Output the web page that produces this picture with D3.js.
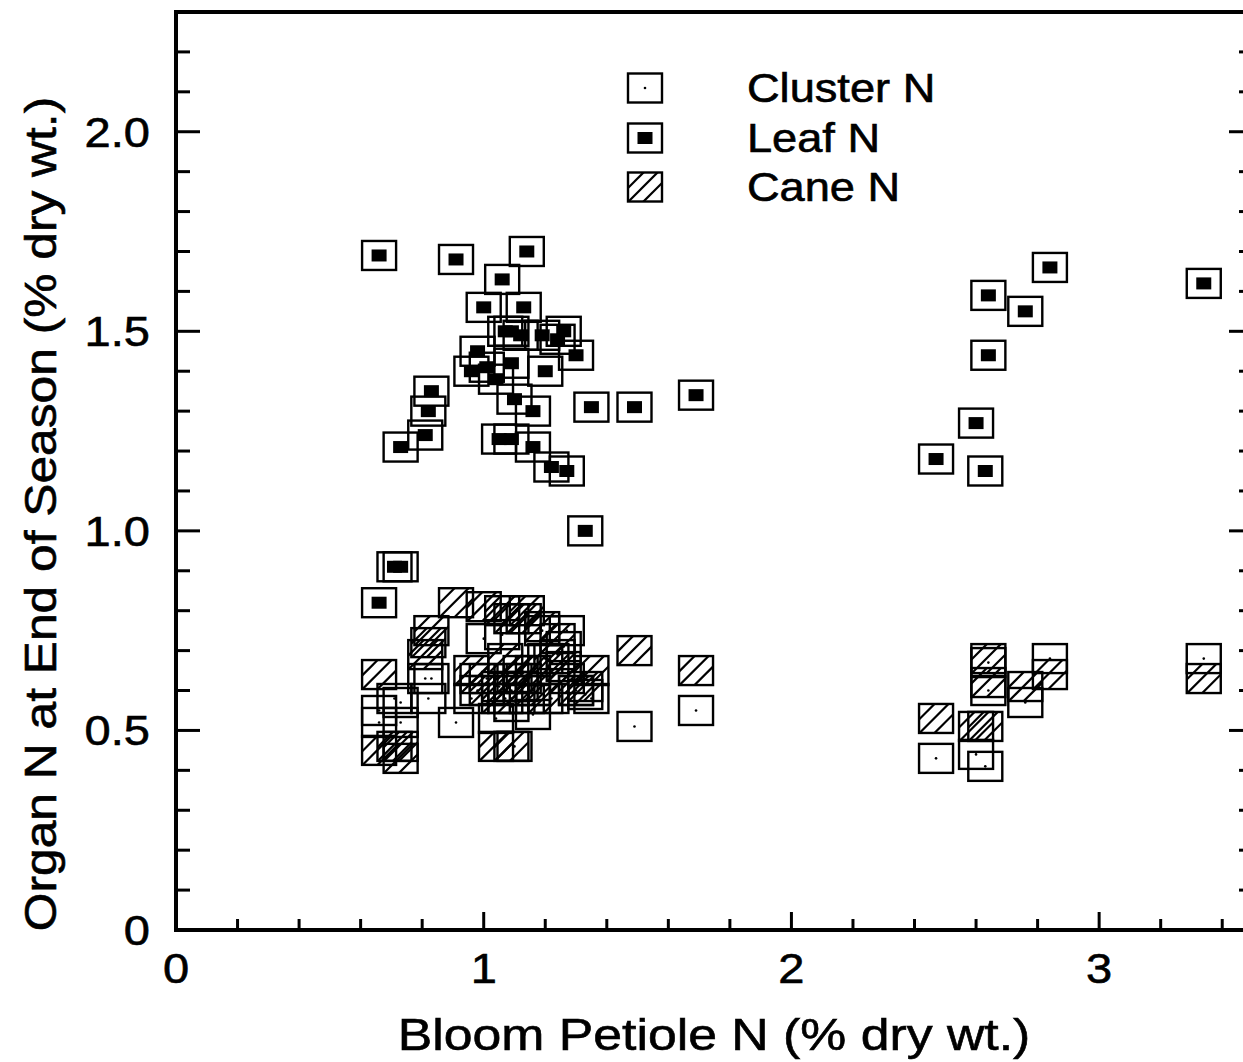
<!DOCTYPE html>
<html>
<head>
<meta charset="utf-8">
<script src="https://cdn.jsdelivr.net/npm/d3@7"></script>
<style>
  html, body { margin: 0; padding: 0; background: #fff; }
  svg { display: block; }
  text { font-family: "Liberation Sans", Arial, Helvetica, sans-serif; fill: #000; stroke: #000; stroke-width: 0.6px; }
</style>
</head>
<body>
<svg id="chart" width="1243" height="1062"></svg>
<script>
// ---- Data ----
const petioleN = [0.66, 0.91, 1.14, 1.06, 1.00, 1.13, 1.09, 1.07, 1.12, 1.19,
                  1.24, 1.26, 1.30, 0.98, 0.96, 1.01, 1.04, 1.09, 1.20, 1.10,
                  1.16, 0.83, 0.82, 0.81, 0.73, 1.05, 1.09, 1.16, 1.22, 1.27,
                  1.35, 1.49, 1.69, 1.33, 0.71, 0.73, 0.66, 2.84, 2.64, 2.76,
                  2.64, 2.60, 2.47, 2.63, 3.34];
const leafN = [1.69, 1.68, 1.70, 1.63, 1.56, 1.56, 1.50, 1.50, 1.49, 1.49,
               1.48, 1.50, 1.44, 1.45, 1.40, 1.41, 1.38, 1.42, 1.40, 1.33,
               1.30, 1.35, 1.30, 1.24, 1.21, 1.23, 1.23, 1.21, 1.16, 1.15,
               1.31, 1.31, 1.34, 1.00, 0.91, 0.91, 0.82, 1.66, 1.59, 1.55,
               1.44, 1.27, 1.18, 1.15, 1.62];
const clusterN = [0.52, 0.52, 0.58, 0.74, 0.73, 0.63, 0.60, 0.58, 0.61, 0.75,
                  0.69, 0.71, 0.60, 0.60, 0.58, 0.63, 0.53, 0.58, 0.68, 0.46,
                  0.60, 0.63, 0.58, 0.63, 0.57, 0.61, 0.56, 0.54, 0.58, 0.75,
                  0.58, 0.51, 0.55, 0.59, 0.58, 0.52, 0.55, 0.68, 0.60, 0.57,
                  0.67, 0.44, 0.43, 0.41, 0.68];
const caneN = [0.64, 0.82, 0.80, 0.80, 0.81, 0.78, 0.78, 0.68, 0.65, 0.76,
               0.73, 0.66, 0.60, 0.63, 0.65, 0.60, 0.46, 0.61, 0.58, 0.63,
               0.65, 0.75, 0.72, 0.69, 0.46, 0.58, 0.46, 0.60, 0.68, 0.63,
               0.65, 0.70, 0.65, 0.61, 0.46, 0.43, 0.45, 0.64, 0.68, 0.61,
               0.62, 0.51, 0.53, 0.51, 0.63];

const xTickValues = [0, 1, 2, 3];
const xTickLabels = ["0", "1", "2", "3"];
const yTickValues = [0, 0.5, 1.0, 1.5, 2.0];
const yTickLabels = ["0", "0.5", "1.0", "1.5", "2.0"];
const legendLabels = ["Cluster N", "Leaf N", "Cane N"];
const xTitle = "Bloom Petiole N (% dry wt.)";
const yTitle = "Organ N at End of Season (% dry wt.)";

// ---- Layout ----
const svg = d3.select("#chart");
const x = d3.scaleLinear().domain([0, 3.5]).range([176, 1253]);
const y = d3.scaleLinear().domain([0, 2.3]).range([930, 12]);
const STRETCH = 1.12;
const BW = 34, BH = 29;

const defs = svg.append("defs");
defs.append("clipPath").attr("id", "boxclip")
  .append("rect").attr("x", -BW/2).attr("y", -BH/2).attr("width", BW).attr("height", BH);

// ---- Axes / frame ----
const frame = svg.append("g").attr("stroke", "#000").attr("stroke-linecap", "butt");
frame.append("line").attr("x1", x(0)).attr("x2", x(3.5)).attr("y1", y(0)).attr("y2", y(0)).attr("stroke-width", 4);
frame.append("line").attr("x1", x(0)).attr("x2", x(3.5)).attr("y1", y(2.3)).attr("y2", y(2.3)).attr("stroke-width", 4);
frame.append("line").attr("x1", x(0)).attr("x2", x(0)).attr("y1", y(0) + 2).attr("y2", y(2.3) - 2).attr("stroke-width", 4);
frame.append("line").attr("x1", x(3.5)).attr("x2", x(3.5)).attr("y1", y(0)).attr("y2", y(2.3)).attr("stroke-width", 4);

const yMinor = d3.range(1, 23).map(i => i / 10);
yMinor.forEach(v => {
  const major = Math.abs(v * 2 - Math.round(v * 2)) < 1e-6;
  const len = major ? 24 : 14;
  frame.append("line").attr("x1", x(0)).attr("x2", x(0) + len)
    .attr("y1", y(v)).attr("y2", y(v)).attr("stroke-width", 3);
  frame.append("line").attr("x1", x(3.5)).attr("x2", x(3.5) - len)
    .attr("y1", y(v)).attr("y2", y(v)).attr("stroke-width", 3);
});
const xMinor = d3.range(1, 18).map(i => i / 5);
xMinor.forEach(v => {
  const major = Math.abs(v - Math.round(v)) < 1e-6;
  const len = major ? 18 : 11;
  frame.append("line").attr("x1", x(v)).attr("x2", x(v))
    .attr("y1", y(0)).attr("y2", y(0) - len).attr("stroke-width", 3);
});

xTickValues.forEach((v, i) => {
  svg.append("text")
    .attr("transform", `translate(${x(v)},${983}) scale(${STRETCH},1)`)
    .attr("text-anchor", "middle")
    .attr("font-size", 42)
    .text(xTickLabels[i]);
});
yTickValues.forEach((v, i) => {
  svg.append("text")
    .attr("transform", `translate(${150},${y(v) + 15}) scale(${STRETCH},1)`)
    .attr("text-anchor", "end")
    .attr("font-size", 42)
    .text(yTickLabels[i]);
});

svg.append("text")
  .attr("transform", `translate(${714},${1050}) scale(1.15,1)`)
  .attr("text-anchor", "middle")
  .attr("font-size", 45)
  .text(xTitle);
svg.append("text")
  .attr("transform", `translate(${56},${514}) rotate(-90) scale(1.13,1)`)
  .attr("text-anchor", "middle")
  .attr("font-size", 44)
  .text(yTitle);

// ---- Markers ----
function drawBox(g) {
  g.append("rect").attr("x", -BW/2).attr("y", -BH/2).attr("width", BW).attr("height", BH)
    .attr("fill", "none").attr("stroke", "#000").attr("stroke-width", 2.4);
}
function drawCluster(g) {
  drawBox(g);
  g.append("circle").attr("r", 1.3).attr("fill", "#000");
}
function drawLeaf(g) {
  drawBox(g);
  g.append("rect").attr("x", -7.5).attr("y", -6).attr("width", 15).attr("height", 12).attr("fill", "#000");
}
function drawCane(g) {
  drawBox(g);
  const h = g.append("g").attr("clip-path", "url(#boxclip)")
    .attr("stroke", "#000").attr("stroke-width", 2.2);
  [-16, -2, 13].forEach(c => {
    h.append("line").attr("x1", -30).attr("y1", 30 + c).attr("x2", 30).attr("y2", -30 + c);
  });
}

const plot = svg.append("g");
const obs = petioleN.map((p, i) => ({ p, cluster: clusterN[i], leaf: leafN[i], cane: caneN[i] }));

obs.forEach(d => drawCluster(plot.append("g").attr("transform", `translate(${x(d.p)},${y(d.cluster)})`)));
obs.forEach(d => drawCane(plot.append("g").attr("transform", `translate(${x(d.p)},${y(d.cane)})`)));
obs.forEach(d => drawLeaf(plot.append("g").attr("transform", `translate(${x(d.p)},${y(d.leaf)})`)));

// ---- Legend ----
const legendY = [88, 138, 187];
const drawers = [drawCluster, drawLeaf, drawCane];
legendLabels.forEach((lab, i) => {
  const g = svg.append("g").attr("transform", `translate(${645},${legendY[i]})`);
  drawers[i](g);
  svg.append("text")
    .attr("transform", `translate(${747},${legendY[i] + 14}) scale(1.13,1)`)
    .attr("font-size", 40)
    .text(lab);
});
</script>
</body>
</html>
